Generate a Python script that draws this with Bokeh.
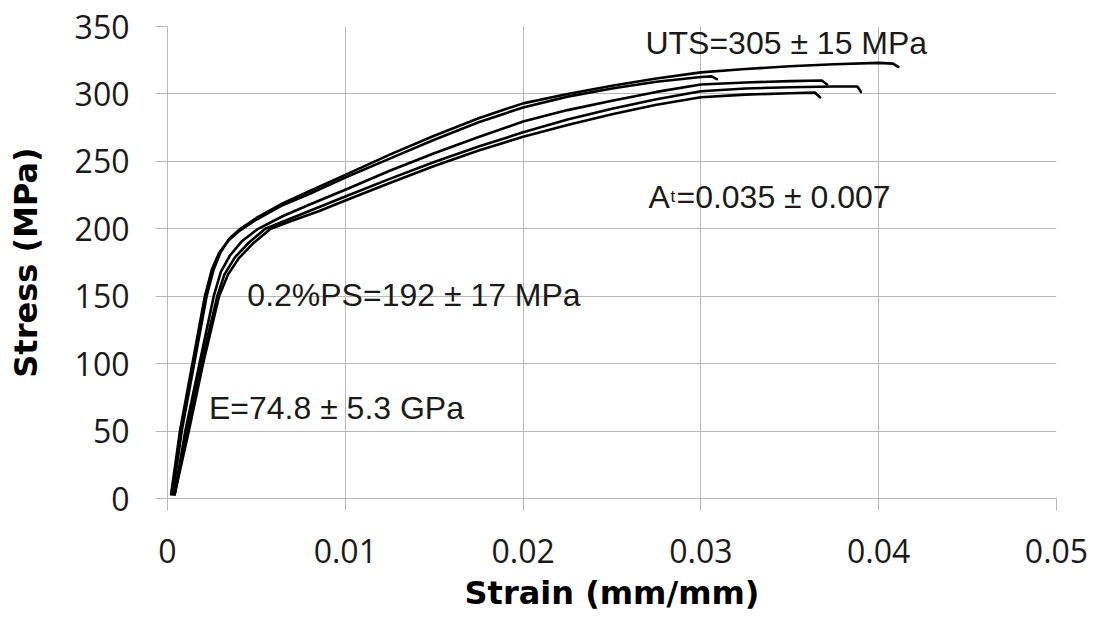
from bokeh.plotting import figure
from bokeh.models import Range1d, FixedTicker, Label, Title
from bokeh.embed import file_html
from bokeh.resources import INLINE

# ---- data ----
strain_a = [0.0003, 0.0008, 0.0015, 0.0022, 0.0026, 0.003, 0.0035, 0.0041, 0.005, 0.0065, 0.008, 0.01, 0.0125, 0.015, 0.0175, 0.02, 0.0225, 0.025, 0.0275, 0.03, 0.0325, 0.035, 0.0375, 0.04, 0.0408, 0.0411]
stress_a = [3, 50, 100, 150, 170, 183, 193, 200, 208, 219, 228, 240, 255, 269, 282, 293, 300, 306, 311.5, 316, 318.5, 320.5, 322, 323, 322.5, 320]

strain_b = [0.0002, 0.0007, 0.0014, 0.0021, 0.0025, 0.0029, 0.0034, 0.004, 0.0049, 0.0064, 0.008, 0.01, 0.0125, 0.015, 0.0175, 0.02, 0.0225, 0.025, 0.0275, 0.03, 0.0306, 0.0309]
stress_b = [3, 50, 100, 150, 170, 182, 191, 198, 206, 217, 226, 238, 252, 266, 279, 290, 298, 304, 309, 312.5, 313, 311]

strain_c = [0.0004, 0.001, 0.0018, 0.0026, 0.003, 0.0035, 0.0042, 0.0051, 0.0065, 0.008, 0.01, 0.0125, 0.015, 0.0175, 0.02, 0.0225, 0.025, 0.0275, 0.03, 0.0325, 0.035, 0.0368, 0.0371]
stress_c = [3, 50, 100, 150, 168, 180, 191, 200, 209.5, 218, 229, 243, 256, 268, 279.5, 288, 295, 301.5, 307, 308.5, 309.5, 310, 307]

strain_d = [0.0004, 0.0011, 0.0019, 0.0028, 0.0032, 0.0038, 0.0046, 0.0055, 0.007, 0.0085, 0.01, 0.0125, 0.015, 0.0175, 0.02, 0.0225, 0.025, 0.0275, 0.03, 0.0325, 0.035, 0.0375, 0.0388, 0.039]
stress_d = [3, 50, 100, 150, 166, 179, 190, 200, 208, 216, 224, 237, 249.5, 261, 271.5, 281, 289, 296, 302, 304, 305, 305.5, 305.5, 301.5]

strain_e = [0.0004, 0.0012, 0.002, 0.0029, 0.0034, 0.004, 0.0048, 0.0058, 0.007, 0.0085, 0.01, 0.0125, 0.015, 0.0175, 0.02, 0.0225, 0.025, 0.0275, 0.03, 0.0325, 0.035, 0.0364, 0.0367]
stress_e = [3, 50, 100, 150, 166, 178, 189, 200, 206, 213, 221, 234, 246.5, 258, 268.3, 277, 285, 292, 297.5, 299.5, 300.5, 301, 297.5]

x_ticks = [0, 0.01, 0.02, 0.03, 0.04, 0.05]
x_tick_labels = ["0", "0.01", "0.02", "0.03", "0.04", "0.05"]
y_ticks = [0, 50, 100, 150, 200, 250, 300, 350]

annotations = [
    # (text, x, y)
    ("UTS=305 \u00b1 15 MPa", 0.02688, 337.4),
    ("0.2%PS=192 \u00b1 17 MPa", 0.00449, 151.1),
    ("E=74.8 \u00b1 5.3 GPa", 0.00233, 67.4),
]
at_pos = (0.02705, 223.8)
at_main = "A"
at_sub = "t"
at_rest = "=0.035 \u00b1 0.007"

GRID = "#b8b8b8"
TXT = "#1a1a1a"

p = figure(width=1090, height=623, output_backend="svg", toolbar_location=None,
           x_range=Range1d(0, 0.05), y_range=Range1d(0, 350),
           min_border_left=167, min_border_right=34, min_border_top=26, min_border_bottom=125)
p.outline_line_color = None
p.background_fill_color = "white"

for sx, sy in [(strain_a, stress_a), (strain_b, stress_b), (strain_c, stress_c),
               (strain_d, stress_d), (strain_e, stress_e)]:
    p.line(sx, sy, line_color="black", line_width=2.6, line_join="round", line_cap="round")

p.xaxis.ticker = FixedTicker(ticks=x_ticks)
p.xaxis.major_label_overrides = dict(zip(x_ticks, x_tick_labels))
p.yaxis.ticker = FixedTicker(ticks=y_ticks)

for ax in (p.xaxis, p.yaxis):
    ax.axis_line_color = GRID
    ax.major_tick_line_color = GRID
    ax.major_tick_out = 12
    ax.major_tick_in = 0
    ax.minor_tick_line_color = None
    ax.major_label_text_font = "Open Sans"
    ax.major_label_text_font_size = "32px"
    ax.major_label_text_color = TXT

p.yaxis.major_label_standoff = 26
p.xaxis.major_label_standoff = 28

p.yaxis.axis_label = "Stress (MPa)"
p.yaxis.axis_label_text_font = "DejaVu Sans"
p.yaxis.axis_label_text_font_style = "bold"
p.yaxis.axis_label_text_font_size = "32px"
p.yaxis.axis_label_text_color = "black"
p.yaxis.axis_label_standoff = 27

p.xgrid.ticker = FixedTicker(ticks=x_ticks)
p.ygrid.ticker = FixedTicker(ticks=y_ticks)
p.xgrid.grid_line_color = GRID
p.ygrid.grid_line_color = GRID

xtitle = Title(text="Strain (mm/mm)", align="center", offset=-30, standoff=13,
               text_font="DejaVu Sans", text_font_style="bold", text_font_size="32px",
               text_color="black")
p.add_layout(xtitle, "below")

for t, x, y in annotations:
    p.add_layout(Label(x=x, y=y, text=t, text_font="Liberation Sans", text_font_size="32px",
                       text_color=TXT, text_baseline="alphabetic"))

p.add_layout(Label(x=at_pos[0], y=at_pos[1], text=at_main, text_font="Liberation Sans",
                   text_font_size="32px", text_color=TXT, text_baseline="alphabetic"))
p.add_layout(Label(x=at_pos[0], y=at_pos[1], x_offset=22, text=at_sub, text_font="Liberation Sans",
                   text_font_size="17px", text_color=TXT, text_baseline="alphabetic"))
p.add_layout(Label(x=at_pos[0], y=at_pos[1], x_offset=28, text=at_rest, text_font="Liberation Sans",
                   text_font_size="32px", text_color=TXT, text_baseline="alphabetic"))

open("out.html", "w").write(file_html(p, INLINE))
